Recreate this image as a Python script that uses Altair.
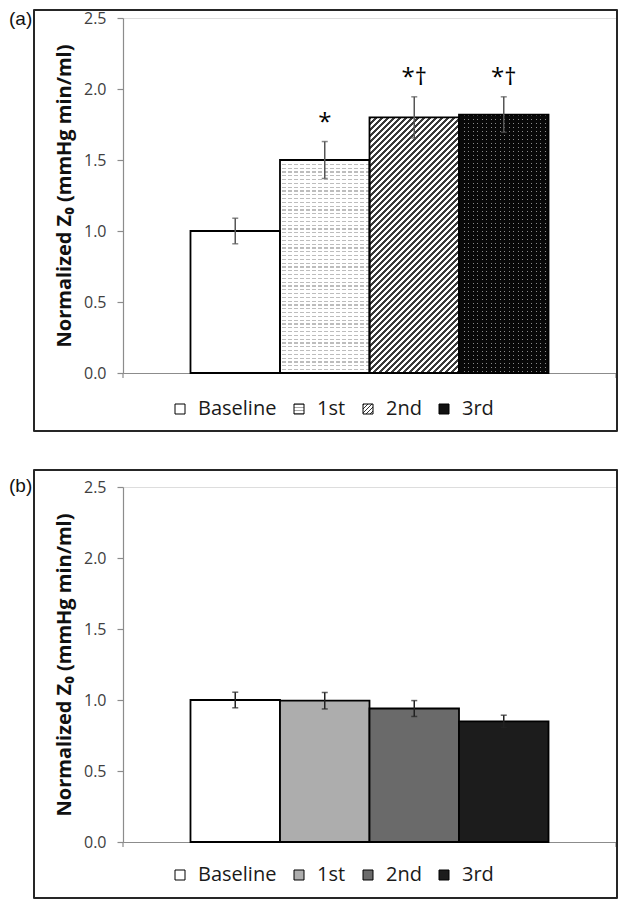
import altair as alt
import pandas as pd

# ---------------- data ----------------
categories = ["Baseline", "1st", "2nd", "3rd"]
top_values = [1.0, 1.5, 1.8, 1.82]
top_errors = [0.09, 0.13, 0.145, 0.125]
top_marks = ["", "*", "*†", "*†"]
bottom_values = [1.0, 0.995, 0.94, 0.85]
bottom_errors = [0.055, 0.058, 0.056, 0.043]
bottom_marks = ["", "", "", ""]
bottom_colors = ["#ffffff", "#adadad", "#6a6a6a", "#1c1c1c"]
y_ticks = [0.0, 0.5, 1.0, 1.5, 2.0, 2.5]
y_title = "Normalized Z₀ (mmHg min/ml)"
panel_labels = ["(a)", "(b)"]

# ---------------- layout / style ----------------
PLOT_W = 493
PLOT_H = 355
Y_MAX = 2.5
PAD_OUTER = 0.754
STEP = PLOT_W / (len(categories) + 2 * PAD_OUTER)
PX = PLOT_H / Y_MAX
FONT = "Open Sans"
AXIS_GRAY = "#8c8c8c"


def stripe_stops(period, frac, c_line, c_bg):
    stops = []
    k = 0
    while k * period < 1:
        a = k * period
        b = min(a + period * frac, 1.0)
        c = min(a + period, 1.0)
        stops += [(a, c_line), (b, c_line), (b, c_bg), (c, c_bg)]
        k += 1
    return [(round(o, 5), col) for o, col in stops]


def lin_grad(x2, y2, stops):
    return alt.LinearGradient(
        gradient="linear", x1=0, y1=0, x2=round(x2, 5), y2=round(y2, 5),
        stops=[alt.GradientStop(offset=o, color=c) for o, c in stops],
    )


def js_grad(x2, y2, stops):
    s = ",".join("{offset:%g,color:'%s'}" % (o, c) for o, c in stops)
    return alt.ExprRef(expr="({gradient:'linear',x1:0,y1:0,x2:%g,y2:%g,stops:[%s]})" % (x2, y2, s))


def diag(w, h):
    s = w + h
    q = w * w + h * h
    return w * s / q, h * s / q


y_axis = alt.Axis(
    values=y_ticks, format=".1f", title=y_title, grid=False,
    titleFont=FONT, titleFontWeight="bold", titleFontSize=20, titleColor="#111111",
    titleX=-59, titleY=PLOT_H / 2, titleAngle=270, titleAlign="center", titleBaseline="middle",
    labelFont=FONT, labelFontSize=16, labelColor="#404040", labelPadding=11,
    tickSize=6, tickColor=AXIS_GRAY, domainColor=AXIS_GRAY, domainWidth=1.2, tickWidth=1.2,
)
y_scale = alt.Scale(domain=[0, Y_MAX], nice=False, zero=True)
x_enc = alt.X(
    "cat:N", sort=categories,
    scale=alt.Scale(domain=categories, paddingInner=0, paddingOuter=PAD_OUTER),
    axis=alt.Axis(labels=False, ticks=False, title=None, domainColor=AXIS_GRAY, domainWidth=1.2),
)


def legend(ly):
    return alt.Legend(
        orient="none", legendX=47, legendY=ly, direction="horizontal", title=None,
        symbolType="square", symbolSize=100, symbolStrokeColor="#000000", symbolStrokeWidth=1,
        labelFont=FONT, labelFontSize=20, labelColor="#1a1a1a", labelOffset=8,
        columnPadding=12, padding=0,
    )


def panel(values, errors, marks, label, patterned, frame_top, frame_bottom, legend_y, label_y, eb_color):
    df = pd.DataFrame({"cat": categories, "value": values, "err": errors, "mark": marks})
    base = alt.Chart(df).transform_calculate(
        lo="datum.value - datum.err", hi="datum.value + datum.err"
    )
    y_enc = alt.Y("value:Q", scale=y_scale, axis=y_axis)

    if patterned:
        fill_range = [
            "#ffffff",
            js_grad(0, 1, stripe_stops(0.3, 0.3, "#a8a8a8", "#ffffff")),
            js_grad(1, 1, stripe_stops(0.2, 0.4, "#333333", "#ffffff")),
            "#111111",
        ]
    else:
        fill_range = bottom_colors

    bar_kwargs = {} if patterned else {"stroke": "#000000", "strokeWidth": 1.8}
    bars = base.mark_bar(**bar_kwargs).encode(
        x=x_enc, y=y_enc,
        fill=alt.Fill("cat:N", scale=alt.Scale(domain=categories, range=fill_range),
                      legend=legend(legend_y)),
    )
    layers = [bars]

    if patterned:
        w = STEP
        # 1st: dashed horizontal light lines
        h1 = values[1] * PX
        layers.append(base.transform_filter("datum.cat == '1st'").mark_bar(
            fill=lin_grad(0, 1, stripe_stops(3.8 / h1, 0.32, "#bdbdbd", "#ffffff"))
        ).encode(x=x_enc, y=y_enc))
        layers.append(base.transform_filter("datum.cat == '1st'").mark_bar(
            fill=lin_grad(1, 0, stripe_stops(6.0 / w, 0.3, "#ffffff", "rgba(255,255,255,0)"))
        ).encode(x=x_enc, y=y_enc))
        # 2nd: diagonal hatching
        h2 = values[2] * PX
        dx, dy = diag(w, h2)
        layers.append(base.transform_filter("datum.cat == '2nd'").mark_bar(
            fill=lin_grad(dx, dy, stripe_stops(6.0 / (w + h2), 0.38, "#3a3a3a", "#ffffff"))
        ).encode(x=x_enc, y=y_enc))
        # 3rd: black with light dots
        h3 = values[3] * PX
        layers.append(base.transform_filter("datum.cat == '3rd'").mark_bar(
            fill=lin_grad(0, 1, stripe_stops(4.0 / h3, 0.25, "#8a8a8a", "#080808"))
        ).encode(x=x_enc, y=y_enc))
        layers.append(base.transform_filter("datum.cat == '3rd'").mark_bar(
            fill=lin_grad(1, 0, stripe_stops(4.5 / w, 0.25, "rgba(0,0,0,0)", "#080808"))
        ).encode(x=x_enc, y=y_enc))
        # outlines
        layers.append(base.mark_bar(fillOpacity=0, stroke="#000000", strokeWidth=1.8).encode(
            x=x_enc, y=y_enc))

    layers.append(base.mark_rule(color=eb_color, strokeWidth=1.5).encode(
        x=x_enc, y=alt.Y("lo:Q", scale=y_scale, axis=y_axis), y2="hi:Q"))
    for f in ["lo", "hi"]:
        layers.append(base.mark_tick(color=eb_color, thickness=1.5, size=6, orient="horizontal").encode(
            x=x_enc, y=alt.Y(f + ":Q", scale=y_scale, axis=y_axis)))

    layers.append(base.mark_text(font=FONT, fontSize=24, color="#000000", baseline="middle", dy=-19).encode(
        x=x_enc, y=alt.Y("hi:Q", scale=y_scale, axis=y_axis), text="mark:N"))

    one = pd.DataFrame({"k": [0]})
    # category-axis end ticks
    for ex in [0, PLOT_W]:
        layers.append(alt.Chart(one).mark_rule(color=AXIS_GRAY, strokeWidth=1.2).encode(
            x=alt.value(ex), y=alt.value(PLOT_H), y2=alt.value(PLOT_H + 5)))
    layers.append(alt.Chart(one).mark_rect(
        filled=False, stroke="#262626", strokeWidth=2, strokeJoin="round"
    ).encode(x=alt.value(-89), x2=alt.value(494), y=alt.value(frame_top), y2=alt.value(frame_bottom)))
    layers.append(alt.Chart(one).mark_text(
        text=label, font="Liberation Sans", fontSize=19, align="left", baseline="top", color="#111111"
    ).encode(x=alt.value(-114), y=alt.value(label_y)))

    return alt.layer(*layers).properties(width=PLOT_W, height=PLOT_H)


top = panel(top_values, top_errors, top_marks, panel_labels[0], True, -8, 413, 381, -8, "#555555")
bottom = panel(bottom_values, bottom_errors, bottom_marks, panel_labels[1], False, -17, 411, 378, -10, "#222222")

chart = alt.vconcat(top, bottom, spacing=35).resolve_scale(fill="independent").resolve_legend(
    fill="independent"
).properties(padding=0).configure_view(stroke="transparent").configure(font=FONT)

chart.save("out.html", embed_options={"renderer": "svg", "actions": False})
